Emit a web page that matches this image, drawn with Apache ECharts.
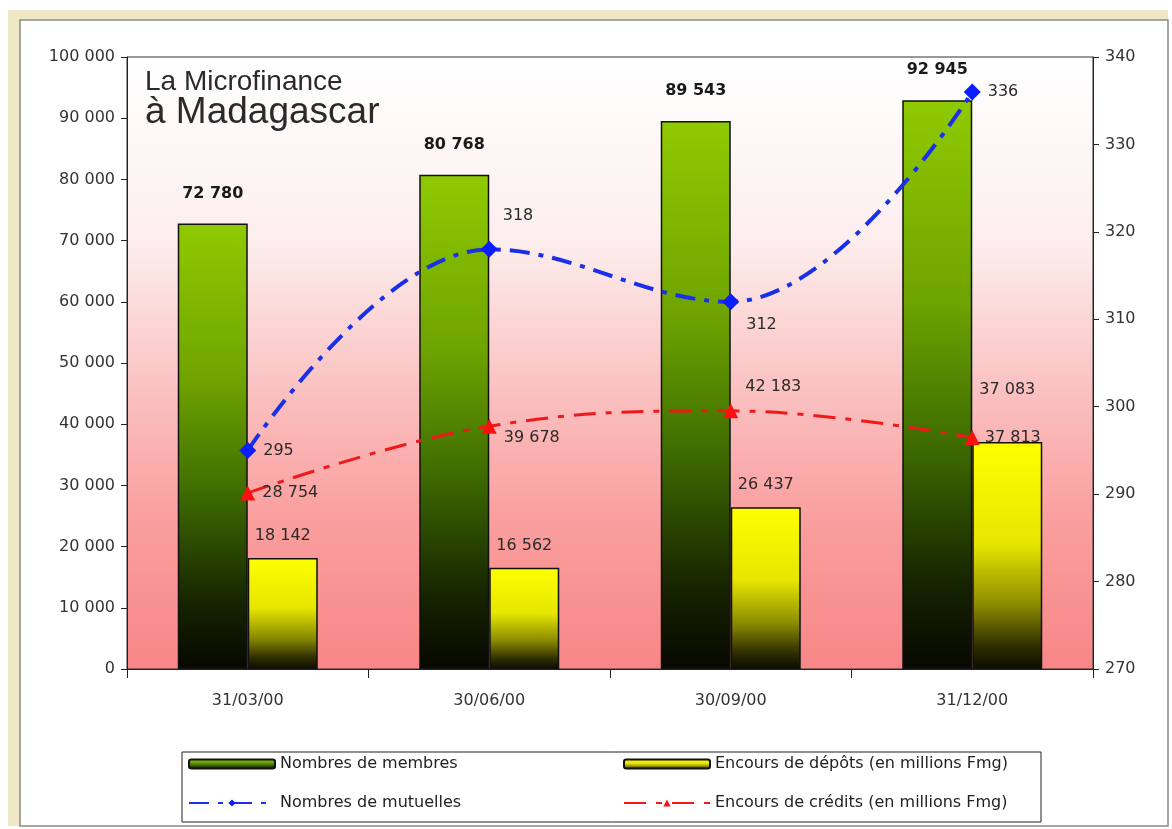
<!DOCTYPE html>
<html>
<head>
<meta charset="utf-8">
<script src="https://cdn.jsdelivr.net/npm/echarts@6/dist/echarts.min.js"></script>
<style>html,body{margin:0;padding:0;background:#fff;}#c{width:1172px;height:829px;}</style>
</head>
<body>
<div id="c"></div>
<script>
const categories = ['31/03/00', '30/06/00', '30/09/00', '31/12/00'];
const membres = [72780, 80768, 89543, 92945];
const depots = [18142, 16562, 26437, 37083];
const mutuelles = [295, 318, 312, 336];
const credits = [28754, 39678, 42183, 37813];
const leftTicks = { min: 0, max: 100000, interval: 10000 };
const rightTicks = { min: 270, max: 340, interval: 10 };

const fmt = v => String(v).replace(/\B(?=(\d{3})+(?!\d))/g, ' ');
const FONT = 'DejaVu Sans';
const G = echarts.graphic.LinearGradient;

const chart = echarts.init(document.getElementById('c'));

const mutLabelPos = [
  { position: 'right', offset: [2, 0] },
  { position: 'right', offset: [0, -33] },
  { position: 'right', offset: [2, 23] },
  { position: 'right', offset: [2, 0] }
];
const credLabelPos = [
  { position: 'right', offset: [2, 0] },
  { position: 'right', offset: [2, 12] },
  { position: 'right', offset: [2, -24] },
  { position: 'right', offset: [0, 0] }
];

chart.setOption({
  backgroundColor: '#ffffff',
  animation: false,
  graphic: [
    { type: 'rect', z: -10, silent: true, shape: { x: 8, y: 10, width: 1160, height: 816 }, style: { fill: '#efe8c6' } },
    { type: 'rect', z: -9, silent: true, shape: { x: 20, y: 20, width: 1148, height: 806 }, style: { fill: '#ffffff', stroke: '#8c8c84', lineWidth: 1.5 } }
  ],
  title: {
    text: 'La Microfinance',
    subtext: 'à Madagascar',
    left: 140,
    top: 63,
    itemGap: -2,
    textStyle: { fontFamily: 'Liberation Sans', fontSize: 28, fontWeight: 'normal', color: '#2a2a2a' },
    subtextStyle: { fontFamily: 'Liberation Sans', fontSize: 37, color: '#2a2a2a' }
  },
  grid: {
    left: 127, right: 79, top: 57, bottom: 160,
    show: true,
    borderColor: '#333',
    borderWidth: 1,
    backgroundColor: new G(0, 0, 0, 1, [
      { offset: 0, color: '#ffffff' },
      { offset: 0.3, color: '#fdeeee' },
      { offset: 0.55, color: '#fbc0c0' },
      { offset: 0.75, color: '#fa9f9f' },
      { offset: 1, color: '#f88686' }
    ])
  },
  legend: {
    left: 182,
    top: 752,
    width: 850,
    orient: 'horizontal',
    padding: [4, 6, 11, 6],
    itemGap: 23,
    itemWidth: 86,
    itemHeight: 9,
    borderColor: '#222',
    borderWidth: 1,
    backgroundColor: '#ffffff',
    data: ['Nombres de membres', 'Encours de dépôts (en millions Fmg)', 'Nombres de mutuelles', 'Encours de crédits (en millions Fmg)'],
    textStyle: { fontFamily: FONT, fontSize: 16, color: '#222', width: 320, lineHeight: 14, overflow: 'none' }
  },
  xAxis: {
    type: 'category',
    data: categories,
    axisLine: { lineStyle: { color: '#222', width: 1 } },
    axisTick: { show: true, length: 9, lineStyle: { color: '#222' } },
    axisLabel: { fontFamily: FONT, fontSize: 16, color: '#333', margin: 24 }
  },
  yAxis: [
    {
      type: 'value',
      min: leftTicks.min, max: leftTicks.max, interval: leftTicks.interval,
      axisLine: { show: true, lineStyle: { color: '#222' } },
      axisTick: { show: true, length: 6, lineStyle: { color: '#222' } },
      splitLine: { show: false },
      axisLabel: { fontFamily: FONT, fontSize: 16, color: '#333', margin: 12, formatter: fmt }
    },
    {
      type: 'value',
      position: 'right',
      min: rightTicks.min, max: rightTicks.max, interval: rightTicks.interval,
      axisLine: { show: true, lineStyle: { color: '#222' } },
      axisTick: { show: true, length: 6, lineStyle: { color: '#222' } },
      splitLine: { show: false },
      axisLabel: { fontFamily: FONT, fontSize: 16, color: '#333', margin: 12 }
    }
  ],
  series: [
    {
      name: 'Nombres de membres',
      type: 'bar',
      data: membres,
      barWidth: 70,
      barGap: '0%',
      itemStyle: {
        borderColor: '#111', borderWidth: 1.5,
        color: new G(0, 0, 0, 1, [
          { offset: 0, color: '#8fca00' },
          { offset: 0.35, color: '#6fa400' },
          { offset: 0.6, color: '#3f6d00' },
          { offset: 0.85, color: '#162400' },
          { offset: 1, color: '#070700' }
        ])
      },
      label: { show: true, position: 'top', distance: 22, formatter: p => fmt(p.value), fontFamily: FONT, fontSize: 16, fontWeight: 'bold', color: '#1a1a1a' }
    },
    {
      name: 'Encours de dépôts (en millions Fmg)',
      type: 'bar',
      data: depots.map((v, i) => i === 3 ? { value: v, label: { distance: 44 } } : v),
      barWidth: 70,
      itemStyle: {
        borderColor: '#111', borderWidth: 1.5,
        color: new G(0, 0, 0, 1, [
          { offset: 0, color: '#ffff00' },
          { offset: 0.45, color: '#e6e600' },
          { offset: 0.72, color: '#8a8a00' },
          { offset: 0.9, color: '#2e2e00' },
          { offset: 1, color: '#0c0c00' }
        ])
      },
      label: { show: true, position: 'top', distance: 14, formatter: p => fmt(p.value), fontFamily: FONT, fontSize: 16, color: '#2a2a2a' }
    },
    {
      name: 'Nombres de mutuelles',
      type: 'line',
      yAxisIndex: 1,
      smooth: 0.4,
      data: mutuelles.map((v, i) => ({ value: v, label: mutLabelPos[i] })),
      symbol: 'diamond',
      symbolSize: 17,
      itemStyle: { color: '#0a1eff' },
      lineStyle: { color: '#1a30e8', width: 4, type: [20, 9, 5, 9] },
      label: { show: true, fontFamily: FONT, fontSize: 16, color: '#2a2a2a' },
      z: 5
    },
    {
      name: 'Encours de crédits (en millions Fmg)',
      type: 'line',
      smooth: 0.4,
      data: credits.map((v, i) => ({ value: v, label: credLabelPos[i] })),
      symbol: 'triangle',
      symbolSize: 15,
      itemStyle: { color: '#ff1010' },
      lineStyle: { color: '#f01818', width: 3, type: [22, 10, 6, 10] },
      label: { show: true, fontFamily: FONT, fontSize: 16, color: '#2a2a2a', formatter: p => fmt(p.value) },
      z: 5
    }
  ]
});
</script>
</body>
</html>
